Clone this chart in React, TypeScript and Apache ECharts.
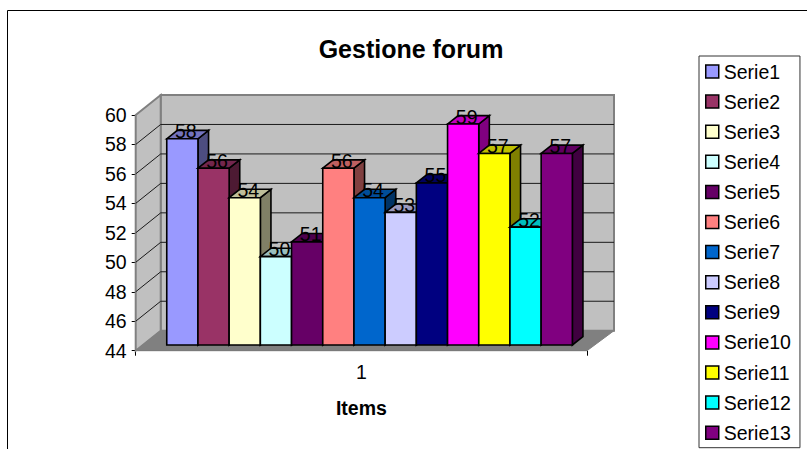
import React, { useEffect, useRef } from "react";
import * as echarts from "echarts";

const titleText = "Gestione forum";
const categories = ["1"];
const seriesNames = ["Serie1","Serie2","Serie3","Serie4","Serie5","Serie6","Serie7","Serie8","Serie9","Serie10","Serie11","Serie12","Serie13"];
const seriesValues = [58,56,54,50,51,56,54,53,55,59,57,52,57];
const seriesColors = ["#9999FF","#993366","#FFFFCC","#CCFFFF","#660066","#FF8080","#0066CC","#CCCCFF","#000080","#FF00FF","#FFFF00","#00FFFF","#800080"];
const yTicks = [44,46,48,50,52,54,56,58,60];
const FONT = "'Liberation Sans', Arial, sans-serif";

function shade(hex: string, f: number) {
  const n = parseInt(hex.slice(1), 16);
  const c = [(n >> 16) & 255, (n >> 8) & 255, n & 255].map((v) => Math.round(v * f));
  return `rgb(${c[0]},${c[1]},${c[2]})`;
}

const WALL_DX = 25;
const WALL_DY = -20;
const WALL_EXTRA = 2;
const BAR_W = 31.2;
const BAR_SHIFT_X = 8.2;
const BAR_SHIFT_Y = -5.7;
const DEPTH_X = 10.6;
const DEPTH_Y = -8.4;

const poly = (points: number[][], fill: string, stroke: string, lineWidth: number, z2: number) => ({
  type: "polygon",
  z2,
  shape: { points },
  style: { fill, stroke, lineWidth },
});

export default function App() {
  const ref = useRef<HTMLDivElement>(null);
  useEffect(() => {
    document.body.style.margin = "0";
    const chart = echarts.init(ref.current!, undefined, { renderer: "svg" });

    const frame: any = {
      type: "custom",
      silent: true,
      coordinateSystem: "cartesian2d",
      data: yTicks.map((t) => [0, t]),
      encode: { x: 0, y: 1 },
      renderItem: (params: any, api: any) => {
        const cs = params.coordSys;
        const l = cs.x, r = cs.x + cs.width;
        const bl = l + WALL_DX, br = r + WALL_DX + WALL_EXTRA;
        const v = api.value(1);
        const y = api.coord([0, v])[1];
        const kids: any[] = [];
        if (params.dataIndex === 0) {
          const top = api.coord([0, yTicks[yTicks.length - 1]])[1];
          const W = "#808080";
          kids.push(poly([[bl, top + WALL_DY], [br, top + WALL_DY], [br, y + WALL_DY], [bl, y + WALL_DY]], "#C0C0C0", W, 2, -10));
          kids.push(poly([[l, top], [bl, top + WALL_DY], [bl, y + WALL_DY], [l, y]], "#C0C0C0", W, 2, -10));
          kids.push(poly([[l, y], [bl, y + WALL_DY], [br, y + WALL_DY], [r, y]], "#808080", "#808080", 1, -9));
        } else if (v !== yTicks[yTicks.length - 1]) {
          const line = (x1: number, y1: number, x2: number, y2: number) => ({
            type: "line", z2: -8, shape: { x1, y1, x2, y2 }, style: { stroke: "#1a1a1a", lineWidth: 1 },
          });
          kids.push(line(l, y, bl, y + WALL_DY));
          kids.push(line(bl, y + WALL_DY, br, y + WALL_DY));
        }
        return { type: "group", children: kids };
      },
    };

    const bars: any[] = seriesNames.map((name, i) => ({
      type: "custom",
      name,
      silent: true,
      coordinateSystem: "cartesian2d",
      itemStyle: { color: seriesColors[i] },
      data: [[categories[0], seriesValues[i]]],
      encode: { x: 0, y: 1 },
      renderItem: (_p: any, api: any) => {
        const c = api.coord([0, api.value(1)]);
        const b = api.coord([0, yTicks[0]]);
        const x0 = c[0] + (i - seriesNames.length / 2) * BAR_W + BAR_SHIFT_X;
        const x1 = x0 + BAR_W;
        const yt = c[1] + BAR_SHIFT_Y;
        const yb = b[1] + BAR_SHIFT_Y;
        const col = seriesColors[i];
        const S = "#000";
        const z = 10 + i * 2;
        return {
          type: "group",
          children: [
            poly([[x1, yt], [x1 + DEPTH_X, yt + DEPTH_Y], [x1 + DEPTH_X, yb + DEPTH_Y], [x1, yb]], shade(col, 0.5), S, 1.6, z),
            poly([[x0, yt], [x0 + DEPTH_X, yt + DEPTH_Y], [x1 + DEPTH_X, yt + DEPTH_Y], [x1, yt]], shade(col, 0.75), S, 1.6, z),
            poly([[x0, yt], [x1, yt], [x1, yb], [x0, yb]], col, S, 1.6, z + 1),
            {
              type: "text",
              z2: 100,
              x: x0 + BAR_W / 2 + 3.5,
              y: yt - 7.5,
              style: {
                text: String(api.value(1)),
                fill: "#000",
                font: `19.5px ${FONT}`,
                align: "center",
                verticalAlign: "middle",
              },
            },
          ],
        };
      },
    }));

    chart.setOption({
      animation: false,
      backgroundColor: "#fff",
      title: {
        text: titleText,
        left: 406,
        top: 31,
        textAlign: "center",
        textStyle: { fontFamily: FONT, fontSize: 25, fontWeight: "bold", color: "#000" },
      },
      grid: { left: 135.7, top: 115, width: 451.3, height: 235.7, containLabel: false },
      xAxis: {
        type: "category",
        data: categories,
        name: "Items",
        nameLocation: "middle",
        nameGap: 47,
        nameTextStyle: { fontFamily: FONT, fontSize: 19.5, fontWeight: "bold", color: "#000" },
        axisLine: { lineStyle: { color: "#000", width: 1 } },
        axisTick: { show: true, length: 5, lineStyle: { color: "#000" } },
        axisLabel: { fontFamily: FONT, fontSize: 19.5, color: "#000", margin: 11 },
        splitLine: { show: false },
      },
      yAxis: {
        type: "value",
        min: yTicks[0],
        max: yTicks[yTicks.length - 1],
        interval: 2,
        axisLine: { show: true, lineStyle: { color: "#000", width: 1 } },
        axisTick: { show: true, length: 4, lineStyle: { color: "#000" } },
        axisLabel: { fontFamily: FONT, fontSize: 19.5, color: "#000", margin: 9 },
        splitLine: { show: false },
      },
      legend: {
        orient: "vertical",
        left: 699,
        top: 56,
        height: 430,
        padding: [5.5, 9, 5, 6],
        borderColor: "#333",
        borderWidth: 1,
        backgroundColor: "#fff",
        itemGap: 10.1,
        itemWidth: 13,
        itemHeight: 13,
        icon: "rect",
        selectedMode: false,
        data: seriesNames.map((name, i) => ({
          name,
          itemStyle: { color: seriesColors[i], borderColor: "#000", borderWidth: 1.5 },
        })),
        textStyle: { fontFamily: FONT, fontSize: 19.5, color: "#000" },
      },
      graphic: [
        {
          type: "polyline",
          silent: true,
          shape: { points: [[7.5, 449], [7.5, 10.5], [807, 10.5]] },
          style: { fill: "none", stroke: "#000", lineWidth: 1 },
        },
      ],
      series: [frame, ...bars],
    });
    return () => chart.dispose();
  }, []);
  return <div ref={ref} style={{ width: 807, height: 449 }} />;
}
